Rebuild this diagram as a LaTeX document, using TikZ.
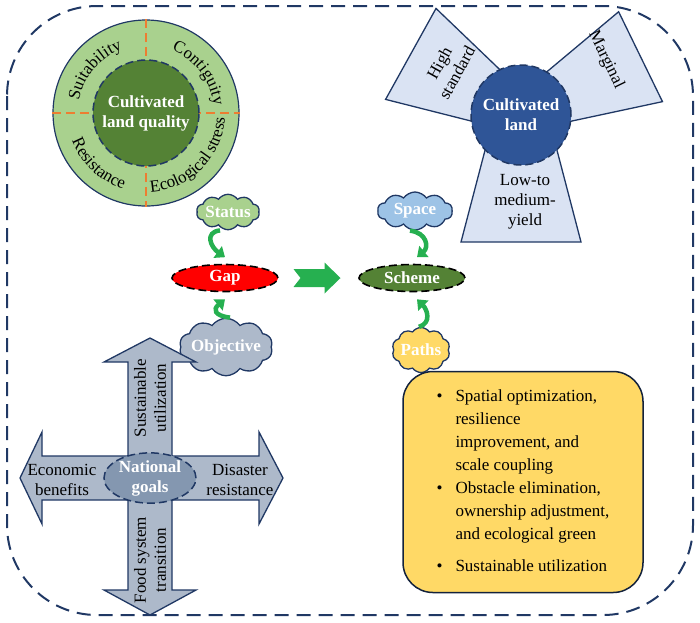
\documentclass[tikz,border=0pt]{standalone}
\usepackage{fontspec}
\setmainfont{Liberation Serif}
\usetikzlibrary{arrows.meta, calc, shapes.geometric, shapes.symbols, decorations.text}
\definecolor{navy}{RGB}{32,56,100}
\definecolor{ringgreen}{RGB}{169,209,142}
\definecolor{darkgreen}{RGB}{84,130,53}
\definecolor{lineorange}{RGB}{237,125,49}
\definecolor{landblue}{RGB}{47,85,151}
\definecolor{paleblue}{RGB}{218,227,243}
\definecolor{skyblue}{RGB}{157,195,230}
\definecolor{greyblue}{RGB}{173,185,202}
\definecolor{slateblue}{RGB}{132,151,176}
\definecolor{goldyellow}{RGB}{255,217,102}
\definecolor{arrowgreen}{RGB}{38,176,80}

\begin{document}
\begin{tikzpicture}[x=1pt, y=1pt, font=\fontsize{17}{20}\selectfont,
  cloudnode/.style={cloud, cloud puffs=10, cloud puff arc=110, aspect=2, draw=navy,
                    line width=1.3pt, text=white, font=\fontsize{17}{20}\selectfont\bfseries,
                    inner sep=-3pt},
  ovalnode/.style={ellipse, draw=black, line width=1.6pt, dash pattern=on 8pt off 4pt,
                   text=white, font=\fontsize{17}{20}\selectfont\bfseries,
                   minimum width=106, minimum height=27, inner sep=0pt},
  hook/.style={arrowgreen, line width=4.5pt, -{Triangle[length=9pt, width=14pt]}},
  trap/.style={fill=paleblue, draw=navy, line width=1.3pt},
  ringtext/.style={decorate, decoration={text along path, text align=center,
                   text={|\fontsize{17}{17}\selectfont|#1}}}]
  \useasboundingbox (0,0) rectangle (700,-622);
  % outer frame
  \draw[navy, line width=2pt, dash pattern=on 14pt off 8pt, rounded corners=90pt]
    (7,-6) rectangle (693,-615);

  % cultivated land quality ring
  \node[circle, fill=ringgreen, draw=navy, line width=1.2pt, minimum size=186] (ring) at (146,-113) {};
  \draw[lineorange, line width=1.5pt, dash pattern=on 9pt off 5pt] (ring.north) -- (ring.south);
  \draw[lineorange, line width=1.5pt, dash pattern=on 9pt off 5pt] (ring.west) -- (ring.east);
  \node[circle, fill=darkgreen, draw=navy, line width=1.5pt, dash pattern=on 8pt off 4pt,
        minimum size=106, text=white, font=\fontsize{17}{20}\selectfont\bfseries, align=center]
    (quality) at (ring) {Cultivated\\land quality};
  \path[ringtext=Suitability] ($(ring)+(176:68)$) arc[start angle=176, end angle=104, radius=68];
  \path[ringtext=Contiguity] ($(ring)+(73:68)$) arc[start angle=73, end angle=1, radius=68];
  \path[ringtext=Resistance] ($(ring)+(190:79)$) arc[start angle=190, end angle=264, radius=79];
  \path[ringtext=Ecological stress] ($(ring)+(272:79)$) arc[start angle=272, end angle=358, radius=79];

  % cultivated land types
  \coordinate (landc) at (521,-115);
  \foreach \ang/\dist/\hw in {151/126/52, 26/133/50, 270/127/60}
    \draw[trap, shift={(landc)}, rotate=\ang]
      (20,{-(\hw-28)}) -- (\dist,-\hw) -- (\dist,\hw) -- (20,{\hw-28}) -- cycle;
  \node[circle, fill=landblue, draw=navy, line width=1.5pt, dash pattern=on 8pt off 4pt,
        minimum size=100, text=white, font=\fontsize{17}{20}\selectfont\bfseries, align=center]
    (land) at (landc) {Cultivated\\land};
  \node[rotate=61, align=center] (highstd) at (448,-68) {High\\standard};
  \node[rotate=-64] (marginal) at (606,-60) {Marginal};
  \node[align=center] (lowyield) at (525,-202) {Low-to\\medium-\\yield};

  % gap and scheme
  \node[cloudnode, fill=ringgreen, minimum width=63, minimum height=33] (status) at (228,-212) {Status};
  \node[ovalnode, fill=red] (gap) at (225,-278) {Gap};
  \node[cloudnode, fill=greyblue, minimum width=88, minimum height=49] (objective) at (226,-347) {Objective};
  \node[ovalnode, fill=darkgreen] (scheme) at (412,-278) {Scheme};
  \node[cloudnode, fill=skyblue, minimum width=75, minimum height=38] (space) at (415,-211) {Space};
  \node[cloudnode, fill=goldyellow, minimum width=58, minimum height=45] (paths) at (421,-350) {Paths};

  \draw[hook] ([xshift=-8pt]status.south) .. controls +(-16,-2) and +(-14,10) .. ([yshift=6.5pt]gap.north);
  \draw[hook] ([xshift=4pt]objective.north) .. controls +(-16,2) and +(-12,-10) .. ([yshift=-7pt]gap.south);
  \draw[hook] ([xshift=-5pt]space.south) .. controls +(17,-2) and +(12,10) .. ([xshift=5pt, yshift=6.5pt]scheme.north);
  \draw[hook] ([xshift=-2pt]paths.north) .. controls +(13,4) and +(10,-10) .. ([xshift=5pt, yshift=-7pt]scheme.south);

  \coordinate (mid) at ($(gap.east)!0.5!(scheme.west)$);
  \fill[arrowgreen, shift={(mid)}] (-25,9) -- (-18,0) -- (-25,-9) -- (6,-9) -- (6,-15.5)
    -- (22,0) -- (6,15.5) -- (6,9) -- cycle;

  % national goals cross
  \coordinate (goalc) at (150,-478);
  \draw[fill=greyblue, draw=navy, line width=1.3pt, shift={(goalc)}]
    (0,140) -- (46,116) -- (22,116) -- (22,22) -- (109,22) -- (109,46) -- (133,0)
    -- (109,-46) -- (109,-22) -- (22,-22) -- (22,-112) -- (46,-112) -- (0,-137)
    -- (-46,-112) -- (-22,-112) -- (-22,-22) -- (-108,-22) -- (-108,-46) -- (-130,0)
    -- (-108,46) -- (-108,22) -- (-22,22) -- (-22,116) -- (-46,116) -- cycle;
  \node[ellipse, fill=slateblue, draw=navy, line width=1.5pt, dash pattern=on 8pt off 4pt,
        minimum width=92, minimum height=50, inner sep=0pt, text=white,
        font=\fontsize{17}{20}\selectfont\bfseries, align=center]
    (goals) at (goalc) {National\\goals};
  \node[rotate=90, align=center] (sustain) at (150,-398) {Sustainable\\utilization};
  \node[rotate=90, align=center] (foodsys) at (150,-560) {Food system\\transition};
  \node[align=center] (econ) at (62,-480) {Economic\\benefits};
  \node[align=center] (disaster) at (240,-480) {Disaster\\resistance};

  % measures
  \node[fill=goldyellow, draw=navy!60!black, line width=1.5pt, rounded corners=30pt,
        minimum width=240, minimum height=221, font=\fontsize{17}{23}\selectfont]
    (measures) at (523,-482) {%
    \begin{tabular}{@{}c@{\hspace{13pt}}l@{}}
      \textbullet & Spatial optimization,\\
                  & resilience\\
                  & improvement, and\\
                  & scale coupling\\
      \textbullet & Obstacle elimination,\\
                  & ownership adjustment,\\
                  & and ecological green\\[9pt]
      \textbullet & Sustainable utilization
    \end{tabular}};
\end{tikzpicture}
\end{document}
